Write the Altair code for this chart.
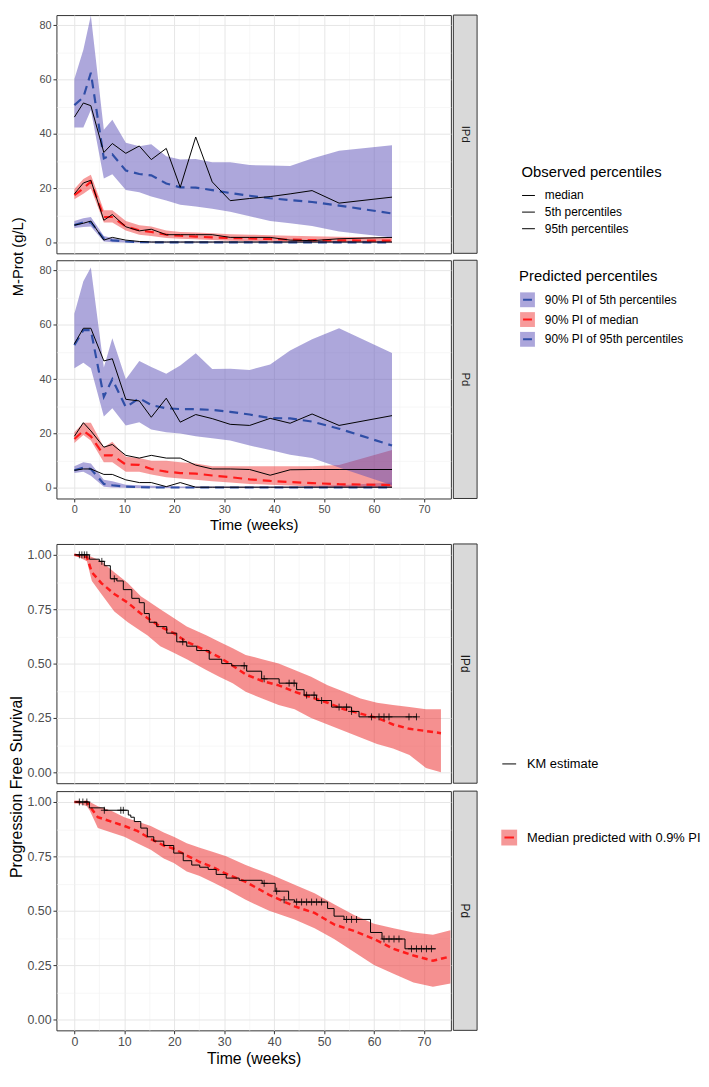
import altair as alt
import pandas as pd

FONT = "Liberation Sans"

# ---------------- M-Prot data (weeks) ----------------
weeks = [0, 1.8, 3.3, 5.9, 7.6, 10.3, 13.0, 15.4, 18.4, 21.2, 24.3, 27.6, 31.2, 35.1, 39.2, 43.2, 47.6, 53.0, 63.6]

OBS = ["median", "5th percentiles", "95th percentiles"]
PRED = ["90% PI of 5th percentiles", "90% PI of median", "90% PI of 95th percentiles"]

ipd_obs_med = [18.0, 22.0, 23.0, 8.3, 10.4, 5.9, 4.4, 5.0, 3.0, 3.0, 3.0, 3.0, 2.0, 2.0, 2.0, 1.0, 0.8, 1.5, 2.0]
ipd_obs_p5 = [6.5, 7.2, 8.0, 1.0, 2.0, 1.0, 0.5, 0.3, 0.3, 0.3, 0.3, 0.3, 0.3, 0.3, 0.3, 0.3, 0.3, 0.3, 0.3]
ipd_obs_p95 = [46.2, 51.4, 50.4, 33.2, 36.5, 32.9, 35.6, 30.6, 34.7, 20.4, 38.9, 22.4, 15.5, 16.3, 17.0, 18.0, 19.2, 14.6, 16.8]
ipd_pred_med = [17.5, 20.0, 22.5, 9.5, 9.5, 6.0, 4.6, 4.0, 3.0, 2.6, 2.3, 2.0, 1.8, 1.6, 1.4, 1.2, 1.0, 0.9, 0.8]
ipd_pred_p5 = [6.5, 7.5, 7.5, 1.5, 0.9, 0.5, 0.3, 0.2, 0.2, 0.2, 0.2, 0.2, 0.2, 0.2, 0.2, 0.2, 0.2, 0.2, 0.2]
ipd_pred_p95 = [50.6, 53.5, 62.5, 31.0, 32.5, 26.6, 25.3, 24.8, 21.8, 20.4, 20.3, 19.4, 18.3, 17.3, 16.4, 15.7, 15.0, 13.7, 10.8]
ipd_pi_med_lo = [16.0, 18.0, 20.0, 7.5, 7.5, 4.5, 3.0, 2.5, 1.8, 1.5, 1.3, 1.0, 0.8, 0.6, 0.5, 0.4, 0.3, 0.3, 0.2]
ipd_pi_med_hi = [19.8, 23.5, 25.0, 12.0, 12.0, 8.0, 6.5, 6.0, 4.5, 4.0, 3.8, 3.5, 3.2, 3.0, 2.8, 2.6, 2.4, 2.2, 2.0]
ipd_pi_p5_lo = [5.5, 5.8, 6.0, 0.5, 0.2, 0.1, 0.0, 0.0, 0.0, 0.0, 0.0, 0.0, 0.0, 0.0, 0.0, 0.0, 0.0, 0.0, 0.0]
ipd_pi_p5_hi = [8.0, 9.0, 9.5, 2.5, 1.8, 0.8, 0.6, 0.5, 0.5, 0.5, 0.5, 0.5, 0.5, 0.5, 0.5, 0.5, 0.5, 0.5, 0.5]
ipd_pi_p95_lo = [42.4, 42.4, 48.8, 23.6, 25.2, 19.4, 18.6, 17.0, 15.6, 14.0, 13.4, 12.5, 11.4, 9.8, 8.0, 7.2, 6.2, 4.2, 2.0]
ipd_pi_p95_hi = [60.2, 71.0, 83.5, 41.6, 45.2, 36.8, 35.5, 36.2, 31.8, 30.6, 30.8, 29.6, 29.6, 28.6, 28.4, 28.2, 31.0, 33.8, 35.9]

pd_obs_med = [19.0, 24.0, 21.0, 15.0, 16.0, 12.0, 11.0, 12.0, 11.0, 11.0, 8.4, 7.0, 7.0, 6.8, 4.7, 6.7, 6.8, 6.8, 6.8]
pd_obs_p5 = [6.5, 7.0, 7.0, 5.0, 5.0, 3.0, 2.0, 2.0, 0.5, 2.0, 0.3, 0.3, 0.3, 0.3, 0.3, 0.3, 0.3, 0.3, 0.3]
pd_obs_p95 = [53.0, 58.7, 58.7, 46.7, 47.5, 32.6, 32.0, 26.0, 33.0, 24.2, 27.0, 25.5, 23.4, 23.0, 25.6, 23.8, 27.2, 23.0, 26.6]
pd_pred_med = [18.0, 21.0, 19.0, 12.0, 12.0, 8.6, 8.5, 7.0, 6.0, 5.5, 5.3, 4.6, 4.0, 3.2, 2.6, 2.2, 1.8, 1.4, 1.1]
pd_pred_p5 = [6.5, 7.5, 7.0, 1.5, 1.0, 0.5, 0.3, 0.2, 0.2, 0.2, 0.2, 0.2, 0.2, 0.2, 0.2, 0.2, 0.2, 0.2, 0.2]
pd_pred_p95 = [52.5, 58.0, 58.0, 33.5, 40.0, 29.7, 33.0, 30.5, 29.3, 29.0, 29.0, 28.7, 28.0, 27.0, 25.7, 25.6, 24.4, 21.8, 15.6]
pd_pi_med_lo = [16.5, 19.5, 17.5, 9.5, 9.5, 6.0, 6.0, 5.0, 4.0, 3.5, 3.0, 2.5, 2.0, 1.5, 1.2, 0.9, 0.6, 0.4, 0.2]
pd_pi_med_hi = [20.5, 24.0, 24.0, 15.0, 17.0, 11.5, 11.0, 10.0, 10.0, 9.5, 9.0, 8.0, 8.0, 8.0, 8.0, 8.0, 8.0, 8.5, 14.0]
pd_pi_p5_lo = [5.5, 6.0, 4.5, 0.5, 0.2, 0.1, 0.0, 0.0, 0.0, 0.0, 0.0, 0.0, 0.0, 0.0, 0.0, 0.0, 0.0, 0.0, 0.0]
pd_pi_p5_hi = [8.0, 9.5, 9.0, 3.0, 2.5, 1.2, 1.0, 0.8, 0.7, 0.6, 0.6, 0.6, 0.6, 0.6, 0.6, 0.6, 0.7, 1.0, 2.0]
pd_pi_p95_lo = [44.0, 46.0, 44.0, 26.3, 29.3, 23.0, 24.2, 21.5, 20.5, 20.0, 19.0, 18.3, 17.5, 15.6, 14.0, 12.2, 11.0, 7.5, 1.0]
pd_pi_p95_hi = [64.0, 76.0, 81.0, 44.3, 55.0, 40.0, 46.7, 44.5, 42.0, 45.0, 49.5, 43.7, 43.8, 43.4, 45.4, 50.5, 54.7, 58.7, 49.6]

# ---------------- PFS data (weeks) ----------------
PFS_BAND = "Median predicted with 0.9% PI"
KM = "KM estimate"

ipd_pfs_t = [0, 2.5, 3.5, 5.4, 8.0, 10.7, 13.3, 14.6, 17.2, 19.9, 22.5, 26.4, 29.0, 31.7, 34.3, 37.6, 40.9, 44.1, 47.4, 50.7, 54.0, 57.3, 60.6, 63.8, 67.1, 70.4, 73.4]
ipd_pfs_med = [1.0, 0.99, 0.92, 0.87, 0.82, 0.78, 0.73, 0.71, 0.67, 0.64, 0.60, 0.56, 0.53, 0.49, 0.45, 0.42, 0.40, 0.37, 0.345, 0.32, 0.29, 0.27, 0.25, 0.22, 0.20, 0.19, 0.18]
ipd_pfs_hi = [1.0, 1.0, 0.99, 0.97, 0.92, 0.87, 0.81, 0.79, 0.75, 0.71, 0.67, 0.63, 0.60, 0.57, 0.54, 0.52, 0.50, 0.47, 0.44, 0.40, 0.37, 0.34, 0.32, 0.31, 0.30, 0.29, 0.29]
ipd_pfs_lo = [1.0, 0.97, 0.88, 0.82, 0.74, 0.69, 0.65, 0.63, 0.58, 0.55, 0.52, 0.47, 0.44, 0.41, 0.37, 0.34, 0.31, 0.29, 0.25, 0.22, 0.19, 0.16, 0.13, 0.11, 0.08, 0.02, 0.0]
ipd_km_t = [0, 3.0, 5.0, 6.0, 7.2, 8.5, 9.8, 11.5, 13.0, 14.0, 15.0, 16.5, 18.5, 20.5, 22.5, 24.5, 27.0, 29.5, 31.5, 34.5, 37.5, 41.0, 44.5, 46.0, 48.5, 51.5, 55.5, 57.0, 68.5]
ipd_km_s = [1.0, 0.98, 0.97, 0.95, 0.89, 0.88, 0.84, 0.80, 0.78, 0.73, 0.69, 0.67, 0.64, 0.60, 0.58, 0.56, 0.52, 0.50, 0.49, 0.465, 0.43, 0.41, 0.38, 0.355, 0.33, 0.30, 0.28, 0.255, 0.255]
ipd_cens_t = [1.0, 1.5, 2.0, 2.5, 5.5, 8.0, 21.7, 34.0, 38.0, 43.0, 44.0, 46.5, 48.0, 49.5, 53.0, 54.5, 55.5, 59.5, 61.0, 62.0, 63.0, 67.0, 68.5]
ipd_cens_s = [1.0, 1.0, 1.0, 1.0, 0.97, 0.89, 0.60, 0.49, 0.43, 0.41, 0.41, 0.355, 0.355, 0.33, 0.30, 0.30, 0.28, 0.255, 0.255, 0.255, 0.255, 0.255, 0.255]

pd_pfs_t = [0, 2.5, 3.1, 4.7, 7.4, 10.0, 12.6, 15.3, 17.9, 19.9, 22.5, 25.1, 27.8, 30.4, 34.3, 39.0, 44.1, 48.1, 52.0, 56.0, 60.0, 63.9, 67.9, 71.8, 75.3]
pd_pfs_med = [1.0, 1.0, 0.98, 0.93, 0.91, 0.89, 0.867, 0.83, 0.80, 0.785, 0.754, 0.724, 0.70, 0.67, 0.633, 0.573, 0.52, 0.49, 0.437, 0.407, 0.37, 0.325, 0.294, 0.27, 0.29]
pd_pfs_hi = [1.0, 1.0, 1.0, 0.98, 0.96, 0.93, 0.91, 0.89, 0.86, 0.84, 0.81, 0.79, 0.77, 0.75, 0.71, 0.67, 0.62, 0.58, 0.53, 0.48, 0.44, 0.42, 0.40, 0.39, 0.41]
pd_pfs_lo = [1.0, 0.98, 0.96, 0.88, 0.86, 0.84, 0.81, 0.78, 0.74, 0.72, 0.68, 0.66, 0.63, 0.60, 0.55, 0.50, 0.46, 0.42, 0.37, 0.31, 0.25, 0.21, 0.17, 0.15, 0.165]
pd_km_t = [0, 3.0, 6.0, 10.8, 11.3, 12.0, 13.3, 14.6, 15.9, 17.9, 19.9, 21.8, 23.5, 25.1, 26.8, 28.4, 30.4, 33.0, 37.6, 40.2, 42.9, 44.1, 50.7, 52.0, 54.0, 59.3, 61.6, 66.2, 72.4]
pd_km_s = [1.0, 0.973, 0.962, 0.94, 0.93, 0.91, 0.88, 0.84, 0.82, 0.80, 0.765, 0.73, 0.71, 0.70, 0.69, 0.667, 0.65, 0.64, 0.626, 0.59, 0.55, 0.54, 0.51, 0.475, 0.46, 0.40, 0.37, 0.325, 0.325]
pd_cens_t = [1.0, 1.7, 2.5, 6.0, 9.3, 9.8, 38.0, 40.5, 42.0, 44.5, 45.5, 46.5, 47.5, 48.5, 49.5, 54.5, 55.5, 56.5, 62.0, 63.0, 64.0, 65.0, 67.5, 68.5, 69.5, 70.5, 71.5]
pd_cens_s = [1.0, 1.0, 1.0, 0.962, 0.962, 0.962, 0.626, 0.59, 0.55, 0.54, 0.54, 0.54, 0.54, 0.54, 0.54, 0.46, 0.46, 0.46, 0.37, 0.37, 0.37, 0.37, 0.325, 0.325, 0.325, 0.325, 0.325]

# ---------------- styling ----------------
W = 399
H_TOP = 241
H_BOT = 242
PURPLE = "#5b50b8"
RED_BAND = "#f03a3a"
BLUE_LINE = "#2f4ea6"
RED_LINE = "#ff1a1a"
PFS_FILL = "#ec3434"

XDOM = [-3.59, 75.39]
XT = [0, 5, 10, 15, 20, 25, 30, 35, 40, 45, 50, 55, 60, 65, 70]
YT_TOP = [0, 10, 20, 30, 40, 50, 60, 70, 80]
YT_BOT = [0, 0.125, 0.25, 0.375, 0.5, 0.625, 0.75, 0.875, 1.0]

MAJ_X = "datum.value % 10 === 0"
MAJ_YT = "datum.value % 20 === 0"
MAJ_YB = "round(datum.value * 4) === datum.value * 4"

# twin (dash overlay) legends use their own domain strings so they are not merged
PRED_LINE = [p + " " for p in PRED]
PFS_LINE = PFS_BAND + " "
# dash symbol with invisible corner points so its box equals the square's
DASH_PATH = "M-1,-1h0.001M1,1h0.001M-0.6,0H0.6"


def cond(test, a, b):
    return {"condition": {"test": test, "value": a}, "value": b}


def x_axis(show, lfs, tfs):
    common = dict(values=XT, grid=True, gridColor=cond(MAJ_X, "#e6e6e6", "#f1f1f1"),
                  gridWidth=cond(MAJ_X, 1, 0.6), domain=False, labelOverlap=False, labelFlush=False)
    if not show:
        return alt.Axis(title=None, labels=False, ticks=False, **common)
    return alt.Axis(title="Time (weeks)", titleFont=FONT, titleFontSize=tfs, titleFontWeight="normal",
                    titleColor="black", titlePadding=3,
                    labelExpr="datum.value % 10 === 0 ? datum.label : ''",
                    labelFont=FONT, labelFontSize=lfs, labelColor="#4d4d4d", labelPadding=2,
                    tickColor="#333333", tickSize=3.5, tickWidth=1, tickOpacity=cond(MAJ_X, 1, 0),
                    **common)


def y_axis(values, major, lfs, fmt_expr):
    return alt.Axis(values=values, title=None, grid=True, gridColor=cond(major, "#e6e6e6", "#f1f1f1"),
                    gridWidth=cond(major, 1, 0.6), domain=False, labelOverlap=False, labelFlush=False,
                    labelExpr=fmt_expr, labelFont=FONT, labelFontSize=lfs, labelColor="#4d4d4d",
                    labelPadding=2, tickColor="#333333", tickSize=3.5, tickWidth=1,
                    tickOpacity=cond(major, 1, 0))


def legend(title, x, y, stype, ssize, sw, loff, lfs, tfs=15, tpad=8, rpad=1, twin=False, extra=None):
    d = dict(orient="none", legendX=x, legendY=y, direction="vertical", padding=0,
             symbolType=stype, symbolSize=ssize, symbolStrokeWidth=sw, labelOffset=loff,
             labelFont=FONT, labelFontSize=lfs, labelColor="black", labelLimit=400, rowPadding=rpad)
    if title is None:
        d["title"] = None
    else:
        d.update(title=(" " if twin else title), titleFont=FONT, titleFontSize=tfs,
                 titleFontWeight="normal", titleColor="black", titlePadding=tpad)
    if twin:
        d.update(labelExpr="''", symbolDash=[1, 0])
    if extra:
        d.update(extra)
    return alt.Legend(**d)


# legend placement, relative to the first panel of each block
LEG_OBS = legend("Observed percentiles", 470.5, 151.5, "stroke", 169, 1, 9.5, 12, tpad=9, rpad=3.8)
LEG_PRED_FILL = legend("Predicted percentiles", 468, 256.5, "square", 225, 2, 9, 12, tpad=8, rpad=-8,
                       extra=dict(symbolStrokeColor="transparent", symbolOpacity=0.5))
LEG_PRED_LINE = legend("Predicted percentiles", 468, 256.5, DASH_PATH, 225, 2, 9, 12, tpad=8, rpad=-8,
                       twin=True)
LEG_KM = legend(None, 450.5, 215, "stroke", 196, 1, 10.5, 13)
LEG_PFS_FILL = legend(None, 449, 288, "square", 256, 2, 9, 13,
                      extra=dict(symbolStrokeColor="transparent", symbolOpacity=0.5))
LEG_PFS_LINE = legend(None, 449, 288, DASH_PATH, 256, 2, 9, 13, twin=True)


def strip_layers(label, h, fs):
    sdf = pd.DataFrame({"panel": [label]})
    rect = alt.Chart(sdf).mark_rect(fill="#d9d9d9", stroke="#333333", strokeWidth=1).encode(
        x=alt.value(W + 2.5), x2=alt.value(W + 26.5), y=alt.value(0), y2=alt.value(h))
    txt = alt.Chart(sdf).mark_text(angle=90, font=FONT, fontSize=fs, color="#1a1a1a").encode(
        text="panel:N", x=alt.value(W + 14.5), y=alt.value(h / 2))
    return [rect, txt]


def mprot_panel(label, obs, pred, bands, show_x, ytitle):
    rows = []
    for name, lo, hi in zip(PRED, [bands[0], bands[2], bands[4]], [bands[1], bands[3], bands[5]]):
        for t, a, b in zip(weeks, lo, hi):
            rows.append({"t": t, "lo": a, "hi": b, "band": name})
    bdf = pd.DataFrame(rows)
    rows = []
    for name, vals in zip(PRED_LINE, pred):
        for t, v in zip(weeks, vals):
            rows.append({"t": t, "v": v, "line": name})
    pdf = pd.DataFrame(rows)
    rows = []
    for name, vals in zip(OBS, obs):
        for t, v in zip(weeks, vals):
            rows.append({"t": t, "v": v, "obs": name})
    odf = pd.DataFrame(rows)

    xs = alt.Scale(domain=XDOM, nice=False, zero=False)
    ys = alt.Scale(domain=[-3.85, 83.7], nice=False, zero=False)
    xa = x_axis(show_x, 11, 15)
    ya = y_axis(YT_TOP, MAJ_YT, 11, "datum.value % 20 === 0 ? datum.label : ''")

    area = alt.Chart(bdf).mark_area(opacity=0.5, clip=True).encode(
        x=alt.X("t:Q", scale=xs, axis=xa),
        y=alt.Y("lo:Q", scale=ys, axis=ya), y2="hi:Q",
        fill=alt.Fill("band:N", scale=alt.Scale(domain=PRED, range=[PURPLE, RED_BAND, PURPLE]),
                      legend=LEG_PRED_FILL))
    plines = alt.Chart(pdf).mark_line(strokeDash=[9, 6], strokeWidth=2.2, clip=True).encode(
        x=alt.X("t:Q", scale=xs, axis=xa),
        y=alt.Y("v:Q", scale=ys, axis=ya),
        stroke=alt.Stroke("line:N", scale=alt.Scale(domain=PRED_LINE, range=[BLUE_LINE, RED_LINE, BLUE_LINE]),
                          legend=LEG_PRED_LINE))
    olines = alt.Chart(odf).mark_line(strokeWidth=1, clip=True).encode(
        x=alt.X("t:Q", scale=xs, axis=xa),
        y=alt.Y("v:Q", scale=ys, axis=ya),
        color=alt.Color("obs:N", scale=alt.Scale(domain=OBS, range=["black", "black", "black"]),
                        legend=LEG_OBS))
    layers = [area, plines, olines] + strip_layers(label, H_TOP, 11.5)
    if ytitle:
        tdf = pd.DataFrame({"t": [ytitle]})
        layers.append(alt.Chart(tdf).mark_text(angle=270, font=FONT, fontSize=15, color="black").encode(
            text="t:N", x=alt.value(-39), y=alt.value((2 * H_TOP + 7) / 2)))
    return alt.layer(*layers).properties(width=W, height=H_TOP)


def pfs_panel(label, pt, pmed, plo, phi, kt, ks, ct, cs, show_x, ytitle):
    bdf = pd.DataFrame({"t": pt, "lo": plo, "hi": phi, "band": [PFS_BAND] * len(pt)})
    mdf = pd.DataFrame({"t": pt, "v": pmed, "line": [PFS_LINE] * len(pt)})
    kdf = pd.DataFrame({"t": kt, "v": ks, "km": [KM] * len(kt)})
    cdf = pd.DataFrame({"t": ct, "v": cs})

    xs = alt.Scale(domain=XDOM, nice=False, zero=False)
    ys = alt.Scale(domain=[-0.05, 1.05], nice=False, zero=False)
    xa = x_axis(show_x, 12.5, 16)
    ya = y_axis(YT_BOT, MAJ_YB, 12.5,
                "round(datum.value * 4) === datum.value * 4 ? format(datum.value, '.2f') : ''")

    area = alt.Chart(bdf).mark_area(opacity=0.55, clip=True).encode(
        x=alt.X("t:Q", scale=xs, axis=xa),
        y=alt.Y("lo:Q", scale=ys, axis=ya), y2="hi:Q",
        fill=alt.Fill("band:N", scale=alt.Scale(domain=[PFS_BAND], range=[PFS_FILL]), legend=LEG_PFS_FILL))
    med = alt.Chart(mdf).mark_line(strokeDash=[6, 4], strokeWidth=2.5, clip=True).encode(
        x=alt.X("t:Q", scale=xs, axis=xa),
        y=alt.Y("v:Q", scale=ys, axis=ya),
        stroke=alt.Stroke("line:N", scale=alt.Scale(domain=[PFS_LINE], range=[RED_LINE]), legend=LEG_PFS_LINE))
    km = alt.Chart(kdf).mark_line(strokeWidth=1, interpolate="step-after", clip=True).encode(
        x=alt.X("t:Q", scale=xs, axis=xa),
        y=alt.Y("v:Q", scale=ys, axis=ya),
        color=alt.Color("km:N", scale=alt.Scale(domain=[KM], range=["black"]), legend=LEG_KM))
    cens = alt.Chart(cdf).mark_point(shape="M-1,0L1,0M0,-1L0,1", size=49, filled=False, strokeWidth=0.8,
                                     color="black", opacity=1, clip=True).encode(
        x=alt.X("t:Q", scale=xs, axis=xa),
        y=alt.Y("v:Q", scale=ys, axis=ya))
    layers = [area, med, km, cens] + strip_layers(label, H_BOT, 12)
    if ytitle:
        tdf = pd.DataFrame({"t": [ytitle]})
        layers.append(alt.Chart(tdf).mark_text(angle=270, font=FONT, fontSize=16, color="black").encode(
            text="t:N", x=alt.value(-40), y=alt.value((2 * H_BOT + 8) / 2)))
    return alt.layer(*layers).properties(width=W, height=H_BOT)


top_ipd = mprot_panel("IPd", [ipd_obs_med, ipd_obs_p5, ipd_obs_p95],
                      [ipd_pred_p5, ipd_pred_med, ipd_pred_p95],
                      [ipd_pi_p5_lo, ipd_pi_p5_hi, ipd_pi_med_lo, ipd_pi_med_hi, ipd_pi_p95_lo, ipd_pi_p95_hi],
                      False, "M-Prot (g/L)")
top_pd = mprot_panel("Pd", [pd_obs_med, pd_obs_p5, pd_obs_p95],
                     [pd_pred_p5, pd_pred_med, pd_pred_p95],
                     [pd_pi_p5_lo, pd_pi_p5_hi, pd_pi_med_lo, pd_pi_med_hi, pd_pi_p95_lo, pd_pi_p95_hi],
                     True, None)
bot_ipd = pfs_panel("IPd", ipd_pfs_t, ipd_pfs_med, ipd_pfs_lo, ipd_pfs_hi, ipd_km_t, ipd_km_s,
                    ipd_cens_t, ipd_cens_s, False, "Progression Free Survival")
bot_pd = pfs_panel("Pd", pd_pfs_t, pd_pfs_med, pd_pfs_lo, pd_pfs_hi, pd_km_t, pd_km_s,
                   pd_cens_t, pd_cens_s, True, None)

top_block = alt.vconcat(top_ipd, top_pd, spacing=7, bounds="flush")
bot_block = alt.vconcat(bot_ipd, bot_pd, spacing=8, bounds="flush")

chart = alt.vconcat(top_block, bot_block, spacing=10).resolve_scale(
    color="independent", fill="independent", stroke="independent"
).properties(padding=0).configure_view(stroke="#333333", strokeWidth=1)

chart.save("out.html", embed_options={"renderer": "svg", "actions": False})
